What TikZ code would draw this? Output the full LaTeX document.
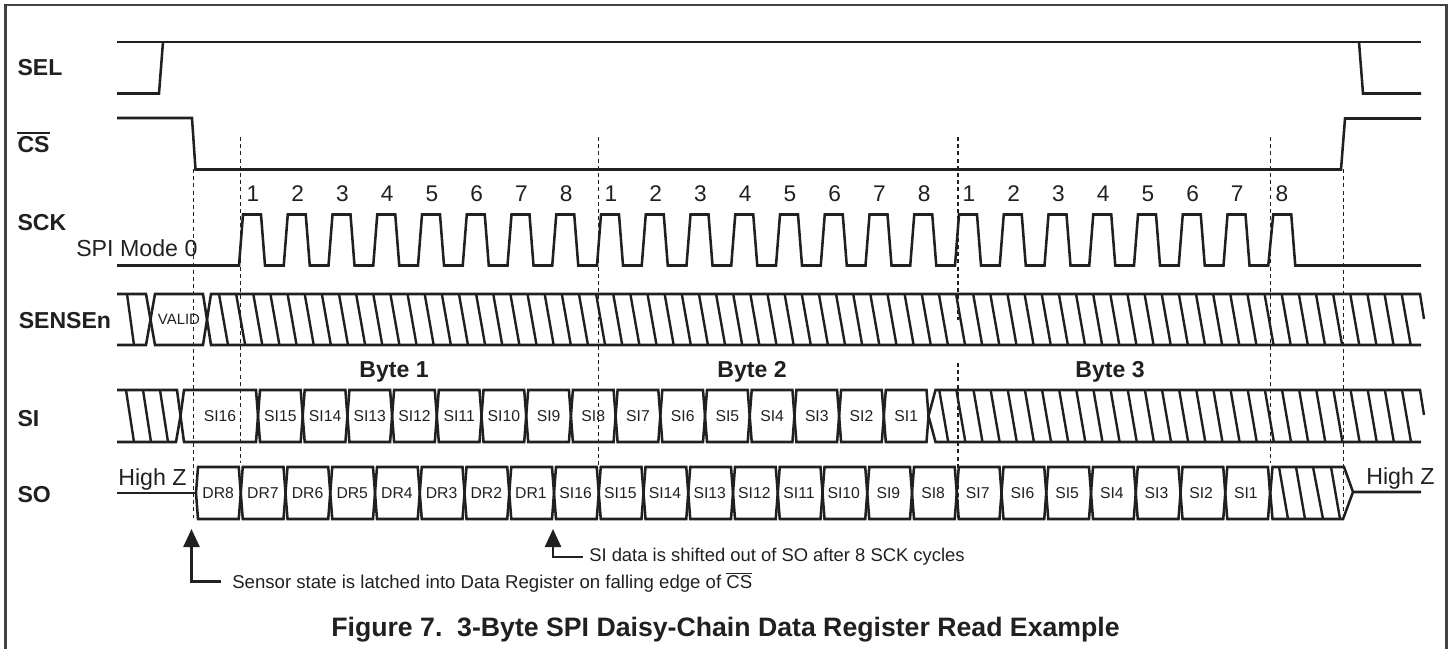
\documentclass[tikz,border=0pt]{standalone}
\usepackage{fontspec}
\setmainfont{Liberation Sans}
\usetikzlibrary{arrows.meta}
\definecolor{ink}{HTML}{231F20}
\tikzset{
  x=0.75pt,y=-0.75pt,
  wave/.style={draw=ink,line width=1.9pt,line join=miter,line cap=butt},
  hatch/.style={draw=ink,line width=1.8pt},
  guide/.style={draw=ink,line width=0.8pt,dash pattern=on 3pt off 2.4pt},
  frameline/.style={draw=ink!85,line width=2.1pt},
  callout/.style={draw=ink,line width=1.9pt,-{Triangle[length=13.5pt,width=12pt]}},
  lab/.style={text=ink,inner sep=0pt,anchor=base west,font=\fontsize{17.3pt}{20pt}\selectfont\bfseries},
  num/.style={text=ink,inner sep=0pt,anchor=base,font=\fontsize{17pt}{20pt}\selectfont},
  big/.style={text=ink,inner sep=0pt,anchor=base west,font=\fontsize{17.4pt}{20pt}\selectfont},
  cell/.style={text=ink,inner sep=0pt,anchor=base,font=\fontsize{11.8pt}{14pt}\selectfont},
  note/.style={text=ink,inner sep=0pt,anchor=base west,font=\fontsize{13.95pt}{16pt}\selectfont},
  bytelab/.style={text=ink,inner sep=0pt,anchor=base,font=\fontsize{17.3pt}{20pt}\selectfont\bfseries},
}
\begin{document}
\begin{tikzpicture}
\useasboundingbox (0,0) rectangle (1452,649);
% frame
\draw[frameline] (5.8,649) -- (5.8,5) -- (1446.7,5) -- (1446.7,649);
% SEL, CS
\draw[wave] (117,42) -- (1421,42);
\draw[wave] (117,93.5) -- (159,93.5) -- (163,42);
\draw[wave] (1359,42) -- (1363,93.5) -- (1421,93.5);
\draw[wave] (117,118) -- (192,118) -- (195.5,169.5) -- (1341,169.5) -- (1345,118.5) -- (1421,118.5);
% SCK
\draw[wave] (117,265.5) -- (239,265.5)
  foreach \k in {0,...,22} { -- ({239+44.75*\k+4},214.5) -- ({239+44.75*\k+22},214.5) -- ({239+44.75*\k+26},265.5) -- ({239+44.75*(\k+1)},265.5) }
  -- (1273.25,214.5) -- (1291.25,214.5) -- (1295.25,265.5) -- (1421,265.5);
\foreach \k [evaluate=\k as \xx using 253+44.74*\k] in {0,...,23} {
  \pgfmathtruncatemacro{\n}{mod(\k,8)+1}
  \node[num] (n\k) at (\xx,201.5) {\n};
}
% SENSEn
\draw[wave] (117,294) -- (146,294) -- (150.5,319.5) -- (146,345) -- (117,345);
\draw[hatch] (127,294) -- (134,345);
\draw[wave] (155,294) -- (203,294) -- (207,319.5) -- (203,345) -- (155,345) -- (150.5,319.5) -- cycle;
\node[cell,font=\fontsize{11.2pt}{14pt}\selectfont] (valid) at (179,324.5) {VALID};
\draw[wave] (1421,294) -- (211,294) -- (207,319.5) -- (211,345) -- (1421,345);
\foreach \k in {0,...,69} \draw[hatch] ({219+17.14*\k},294) -- ({228+17.14*\k},345);
\draw[hatch] (1420,294) -- (1424,319);
% SI
\draw[wave] (117,390) -- (177,390) -- (180.5,416) -- (176,442) -- (117,442);
\foreach \xa/\xb in {126/134,143/151,160/168} \draw[hatch] (\xa,390) -- (\xb,442);
\draw[wave] (184,390) -- (256,390) -- (258,416) -- (256,442) -- (184,442) -- (180.5,416) -- cycle;
\foreach \k [evaluate=\k as \wa using 258+44.7*\k, evaluate=\k as \wb using 258+44.7*(\k+1)] in {0,...,14}
  \draw[wave] (\wa+2,390) -- (\wb-2,390) -- (\wb,416) -- (\wb-2,442) -- (\wa+2,442) -- (\wa,416) -- cycle;
\draw[wave] (1421,390) -- (935.5,390) -- (928.5,416) -- (935.5,442) -- (1421,442);
\foreach \k in {0,...,27} \draw[hatch] ({1402-17.14*\k},390) -- ({1411-17.14*\k},442);
\draw[hatch] (1420,390) -- (1424,415);
\node[cell] (si16) at (220,421) {SI16};
\foreach \t [count=\k from 0, evaluate=\k as \xx using 280.4+44.7*\k] in {15,14,13,12,11,10,9,8,7,6,5,4,3,2,1}
  \node[cell] (sia\t) at (\xx,421) {SI\t};
% SO
\draw[wave] (117,493) -- (195,493);
\foreach \k [evaluate=\k as \wa using 196+44.75*\k, evaluate=\k as \wb using 196+44.75*(\k+1)] in {0,...,23}
  \draw[wave] (\wa+2,467) -- (\wb-2,467) -- (\wb,493) -- (\wb-2,519) -- (\wa+2,519) -- (\wa,493) -- cycle;
\foreach \t [count=\k from 0, evaluate=\k as \xx using 218.2+44.68*\k] in {DR8,DR7,DR6,DR5,DR4,DR3,DR2,DR1,SI16,SI15,SI14,SI13,SI12,SI11,SI10,SI9,SI8,SI7,SI6,SI5,SI4,SI3,SI2,SI1}
  \node[cell] (so\k) at (\xx,498) {\t};
\draw[wave] (1421,492) -- (1353,492) -- (1344,467) -- (1272.5,467) -- (1270.3,493) -- (1272.5,519) -- (1343,519) -- (1353,492);
\foreach \xa/\xb in {1279/1288,1296/1305,1313/1323,1331/1340} \draw[hatch] (\xa,467) -- (\xb,519);
% guides
\foreach \xx/\ya/\yb in {193.5/169/518,240.5/137/463,598.5/137/467,958/137/320,958/363/518,1270.5/137/463,1343.5/169/518}
  \draw[guide] (\xx,\ya) -- (\xx,\yb);
% labels
\node[lab] (sel) at (17.3,76) {SEL};
\node[lab] (cs) at (17.3,153) {CS};
\coordinate (csa) at (17,133); \coordinate (csb) at (50,133);
\draw[draw=ink,line width=1.9pt] (csa) -- (csb);
\node[lab] (sck) at (17.3,230.7) {SCK};
\node[big] (mode) at (76,256.7) {SPI Mode 0};
\node[lab] (sensen) at (18.5,328) {SENSEn};
\node[lab] (si) at (17.3,426.7) {SI};
\node[lab] (so) at (17.3,502) {SO};
\node[bytelab] (b1) at (394,377) {Byte 1};
\node[bytelab] (b2) at (752,377) {Byte 2};
\node[bytelab] (b3) at (1110,377) {Byte 3};
\node[big] (hzl) at (118,485) {High Z};
\node[big] (hzr) at (1366,484) {High Z};
% notes
\node[note] (n1) at (232,588.5) {Sensor state is latched into Data Register on falling edge of \smash{$\overline{\hbox{CS}}$}};
\coordinate (a1c) at (191.5,581.7);
\coordinate (a1e) at (220.7,581.7);
\coordinate (a1t) at (191.5,529);
\draw[callout] (a1e) -- (a1c) -- (a1t);
\node[note,font=\fontsize{13.8pt}{16pt}\selectfont] (n2) at (589,561.7) {SI data is shifted out of SO after 8 SCK cycles};
\coordinate (a2c) at (553,557);
\coordinate (a2e) at (582.7,557);
\coordinate (a2t) at (553,529);
\draw[callout] (a2e) -- (a2c) -- (a2t);
\node[text=ink,inner sep=0pt,anchor=base,font=\fontsize{20pt}{24pt}\selectfont\bfseries] (title) at (725.5,636) {Figure 7.\ \ 3-Byte SPI Daisy-Chain Data Register Read Example};
\end{tikzpicture}
\end{document}
